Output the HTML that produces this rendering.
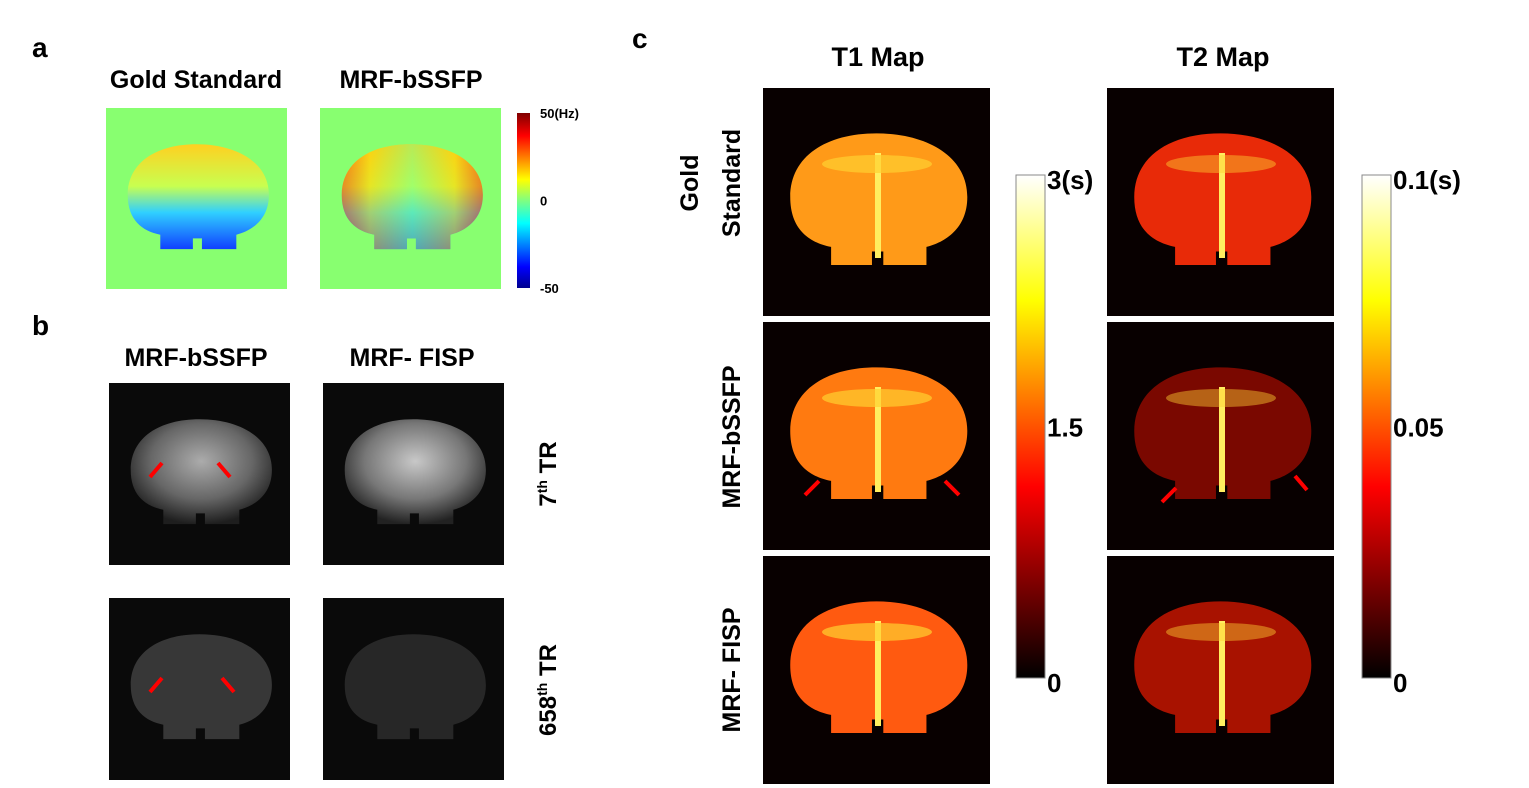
<!DOCTYPE html>
<html><head><meta charset="utf-8"><style>
html,body{margin:0;padding:0;background:#fff;width:1529px;height:788px;overflow:hidden}
svg text{font-family:"Liberation Sans",Arial,sans-serif}
</style></head><body>
<svg id="fig" width="1529" height="788" viewBox="0 0 1529 788" xmlns="http://www.w3.org/2000/svg">
<defs>
<linearGradient id="jet" x1="0" y1="1" x2="0" y2="0">
<stop offset="0" stop-color="#00008f"/><stop offset="0.12" stop-color="#0000ff"/><stop offset="0.37" stop-color="#00ffff"/><stop offset="0.5" stop-color="#80ff80"/><stop offset="0.62" stop-color="#ffff00"/><stop offset="0.87" stop-color="#ff0000"/><stop offset="1" stop-color="#800000"/>
</linearGradient>
<linearGradient id="hot" x1="0" y1="1" x2="0" y2="0">
<stop offset="0" stop-color="#000"/><stop offset="0.38" stop-color="#ff0000"/><stop offset="0.75" stop-color="#ffff00"/><stop offset="1" stop-color="#ffffff"/>
</linearGradient>
<linearGradient id="bfield" x1="0" y1="0" x2="0" y2="1">
<stop offset="0" stop-color="#ffd020"/><stop offset="0.4" stop-color="#c8ff50"/><stop offset="0.65" stop-color="#30d0ff"/><stop offset="1" stop-color="#1040ff"/>
</linearGradient>
<linearGradient id="bfield2" x1="0" y1="0" x2="1" y2="0">
<stop offset="0" stop-color="#ff3000"/><stop offset="0.2" stop-color="#ffd000"/><stop offset="0.5" stop-color="#80ff80"/><stop offset="0.8" stop-color="#ffd000"/><stop offset="1" stop-color="#ff2000"/>
</linearGradient>
<radialGradient id="grey" cx="0.5" cy="0.4" r="0.6">
<stop offset="0" stop-color="#c8c8c8"/><stop offset="0.6" stop-color="#777"/><stop offset="1" stop-color="#222"/>
</radialGradient>
<path id="brain" d="M12,48 C12,30 28,20 50,20 C72,20 90,30 90,48 C90,62 80,68 72,70 L72,78 L53,78 L53,72 L48,72 L48,78 L30,78 L30,70 C20,68 12,62 12,48 Z"/>
</defs>

<text x="32" y="57" font-size="28" font-weight="bold">a</text>
<text x="196" y="88" font-size="25" font-weight="bold" text-anchor="middle">Gold Standard</text>
<text x="411" y="88" font-size="25" font-weight="bold" text-anchor="middle">MRF-bSSFP</text>
<g>
<rect x="106" y="108" width="181" height="181" fill="#88ff70"/>
<use href="#brain" transform="translate(106,108) scale(1.81)" fill="url(#bfield)"/>
</g>
<g>
<rect x="320" y="108" width="181" height="181" fill="#88ff70"/>
<use href="#brain" transform="translate(320,108) scale(1.81)" fill="url(#bfield)"/>
<use href="#brain" transform="translate(320,108) scale(1.81)" fill="url(#bfield2)" opacity="0.55"/>
</g>
<rect x="517" y="113" width="13" height="175" fill="url(#jet)"/>
<g id="cbA"></g>

<text x="32" y="335" font-size="28" font-weight="bold">b</text>
<text x="196" y="366" font-size="25" font-weight="bold" text-anchor="middle">MRF-bSSFP</text>
<text x="412" y="366" font-size="25" font-weight="bold" text-anchor="middle">MRF- FISP</text>
<g>
<rect x="109" y="383" width="181" height="182" fill="#0a0a0a"/>
<use href="#brain" transform="translate(109,383) scale(1.81)" fill="url(#grey)" opacity="0.85"/>
<path d="M150,477 l12,-14 M230,477 l-12,-14" stroke="#f00" stroke-width="4"/>
</g>
<g>
<rect x="323" y="383" width="181" height="182" fill="#0a0a0a"/>
<use href="#brain" transform="translate(323,383) scale(1.81)" fill="url(#grey)"/>
</g>
<g>
<rect x="109" y="598" width="181" height="182" fill="#0a0a0a"/>
<use href="#brain" transform="translate(109,598) scale(1.81)" fill="#555" opacity="0.6"/>
<path d="M150,692 l12,-14 M234,692 l-12,-14" stroke="#f00" stroke-width="4"/>
</g>
<g>
<rect x="323" y="598" width="181" height="182" fill="#0a0a0a"/>
<use href="#brain" transform="translate(323,598) scale(1.81)" fill="#333" opacity="0.7"/>
</g>
<text transform="translate(556,474) rotate(-90)" font-size="24" font-weight="bold" text-anchor="middle">7<tspan font-size="14" dy="-9">th</tspan><tspan dy="9"> TR</tspan></text>
<text transform="translate(556,690) rotate(-90)" font-size="24" font-weight="bold" text-anchor="middle">658<tspan font-size="14" dy="-9">th</tspan><tspan dy="9"> TR</tspan></text>

<text x="632" y="48" font-size="28" font-weight="bold">c</text>
<text x="878" y="66" font-size="27" font-weight="bold" text-anchor="middle">T1 Map</text>
<text x="1223" y="66" font-size="27" font-weight="bold" text-anchor="middle">T2 Map</text>
<text transform="translate(698,183) rotate(-90)" font-size="25" font-weight="bold" text-anchor="middle">Gold</text>
<text transform="translate(740,183) rotate(-90)" font-size="25" font-weight="bold" text-anchor="middle">Standard</text>
<text transform="translate(740,437) rotate(-90)" font-size="25" font-weight="bold" text-anchor="middle">MRF-bSSFP</text>
<text transform="translate(740,670) rotate(-90)" font-size="25" font-weight="bold" text-anchor="middle">MRF- FISP</text>
<g id="maps"></g>
<rect x="1016" y="175" width="29" height="503" fill="url(#hot)" stroke="#888" stroke-width="1"/>
<rect x="1362" y="175" width="29" height="503" fill="url(#hot)" stroke="#888" stroke-width="1"/>
<g id="cbC"></g>
</svg>
<script>
const hzTicks=["50(Hz)","0","-50"];
const t1Ticks=["3(s)","1.5","0"];
const t2Ticks=["0.1(s)","0.05","0"];
const NS="http://www.w3.org/2000/svg";
function txt(parent,x,y,s,size,name){const t=document.createElementNS(NS,"text");t.setAttribute("x",x);t.setAttribute("y",y);t.setAttribute("font-size",size);t.setAttribute("font-weight","bold");t.textContent=s;


parent.appendChild(t);}
const cbA=document.getElementById("cbA");
hzTicks.forEach((s,i)=>txt(cbA,540,113+i*87.5+5,s,13,"colorbar-hz-tick"));
const cbC=document.getElementById("cbC");
t1Ticks.forEach((s,i)=>txt(cbC,1047,175+i*251.5+(i==0?14:10)+(i==2?4:0),s,26,"colorbar-t1-tick"));
t2Ticks.forEach((s,i)=>txt(cbC,1393,175+i*251.5+(i==0?14:10)+(i==2?4:0),s,26,"colorbar-t2-tick"));
const maps=document.getElementById("maps");
const rows=[88,322,556], cols=[763,1107];
const t1Fill=["#ff9a18","#ff7a10","#ff5a10"], t2Fill=["#e82a08","#7a0800","#a81200"];
cols.forEach((cx,ci)=>rows.forEach((ry,ri)=>{
 const g=document.createElementNS(NS,"g");
 
 
 const r=document.createElementNS(NS,"rect");r.setAttribute("x",cx);r.setAttribute("y",ry);r.setAttribute("width",227);r.setAttribute("height",228);r.setAttribute("fill","#080000");g.appendChild(r);
 const u=document.createElementNS(NS,"use");u.setAttribute("href","#brain");u.setAttribute("transform",`translate(${cx},${ry}) scale(2.27)`);u.setAttribute("fill",ci==0?t1Fill[ri]:t2Fill[ri]);g.appendChild(u);
 const line=document.createElementNS(NS,"rect");line.setAttribute("x",cx+112);line.setAttribute("y",ry+65);line.setAttribute("width",6);line.setAttribute("height",105);line.setAttribute("fill","#ffee60");g.appendChild(line);
 const b=document.createElementNS(NS,"ellipse");b.setAttribute("cx",cx+114);b.setAttribute("cy",ry+76);b.setAttribute("rx",55);b.setAttribute("ry",9);b.setAttribute("fill","#ffd030");b.setAttribute("opacity",ci==0?0.7:0.45);g.appendChild(b);
 if(ri==1){const a=document.createElementNS(NS,"path");const d=ci==0?`M${cx+42},${ry+173} l14,-14 M${cx+196},${ry+173} l-14,-14`:`M${cx+55},${ry+180} l14,-14 M${cx+200},${ry+168} l-12,-14`;a.setAttribute("d",d);a.setAttribute("stroke","#f00");a.setAttribute("stroke-width","4");g.appendChild(a);}
 maps.appendChild(g);
}));
</script>
</body></html>
